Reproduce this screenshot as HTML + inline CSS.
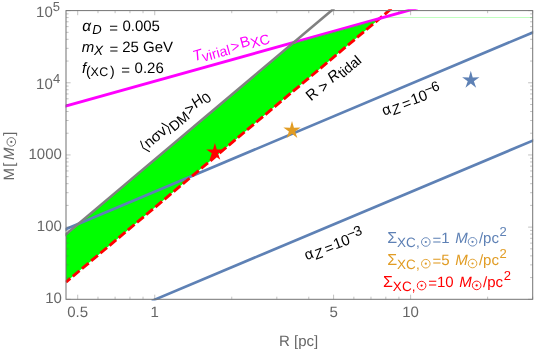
<!DOCTYPE html>
<html><head><meta charset="utf-8"><title>plot</title>
<style>
html,body{margin:0;padding:0;background:#fff;}
body{width:540px;height:353px;overflow:hidden;}
svg{display:block;font-family:"Liberation Sans",sans-serif;text-rendering:geometricPrecision;will-change:transform;}
</style></head><body>
<svg width="540" height="353" viewBox="0 0 540 353">
<rect x="0" y="0" width="540" height="353" fill="#fff"/>
<defs>
<clipPath id="pc"><rect x="65.50" y="9.30" width="467.70" height="291.30"/></clipPath>
</defs>
<g clip-path="url(#pc)">
<polygon points="66.00,234.30 293.66,42.47 379.75,18.45 66.00,282.10" fill="#00ff00"/>
<line x1="383.75" y1="17.5" x2="532.70" y2="17.5" stroke="#00ff00" stroke-width="0.25"/>
<line x1="61.33" y1="231.07" x2="537.37" y2="30.53" stroke="#5e81b5" stroke-width="2.7"/>
<line x1="151.73" y1="300.89" x2="536.47" y2="139.11" stroke="#5e81b5" stroke-width="2.7"/>
<line x1="66.00" y1="282.10" x2="392.43" y2="7.78" stroke="#ff0000" stroke-width="2.9" stroke-dasharray="8.77 3.21" stroke-dashoffset="3.1"/>
<line x1="62.59" y1="106.95" x2="417.75" y2="7.84" stroke="#ff00ff" stroke-width="2.9"/>
<line x1="296.18" y1="43.00" x2="375.57" y2="20.87" stroke="#00ff00" stroke-width="0.6"/>
<line x1="63.34" y1="236.54" x2="334.26" y2="8.26" stroke="#808080" stroke-width="2.6"/>
</g>
<polygon transform="translate(470.8,80.1)" points="0.00,-9.33 1.91,-2.70 8.65,-2.88 3.09,1.03 5.35,7.55 0.00,3.33 -5.35,7.55 -3.09,1.03 -8.65,-2.88 -1.91,-2.70" fill="#5e81b5"/>
<polygon transform="translate(292.0,130.4)" points="0.00,-9.33 1.91,-2.70 8.65,-2.88 3.09,1.03 5.35,7.55 0.00,3.33 -5.35,7.55 -3.09,1.03 -8.65,-2.88 -1.91,-2.70" fill="#e19c24"/>
<polygon transform="translate(214.9,152.3)" points="0.00,-9.33 1.91,-2.70 8.65,-2.88 3.09,1.03 5.35,7.55 0.00,3.33 -5.35,7.55 -3.09,1.03 -8.65,-2.88 -1.91,-2.70" fill="#ff0000"/>
<path d="M66.00 299.30h4.6M532.70 299.30h-4.6M66.00 277.57h2.6M532.70 277.57h-2.6M66.00 264.86h2.6M532.70 264.86h-2.6M66.00 255.85h2.6M532.70 255.85h-2.6M66.00 248.85h2.6M532.70 248.85h-2.6M66.00 243.14h2.6M532.70 243.14h-2.6M66.00 238.31h2.6M532.70 238.31h-2.6M66.00 234.12h2.6M532.70 234.12h-2.6M66.00 230.43h2.6M532.70 230.43h-2.6M66.00 227.12h4.6M532.70 227.12h-4.6M66.00 205.40h2.6M532.70 205.40h-2.6M66.00 192.69h2.6M532.70 192.69h-2.6M66.00 183.67h2.6M532.70 183.67h-2.6M66.00 176.68h2.6M532.70 176.68h-2.6M66.00 170.96h2.6M532.70 170.96h-2.6M66.00 166.13h2.6M532.70 166.13h-2.6M66.00 161.94h2.6M532.70 161.94h-2.6M66.00 158.25h2.6M532.70 158.25h-2.6M66.00 154.95h4.6M532.70 154.95h-4.6M66.00 133.22h2.6M532.70 133.22h-2.6M66.00 120.51h2.6M532.70 120.51h-2.6M66.00 111.50h2.6M532.70 111.50h-2.6M66.00 104.50h2.6M532.70 104.50h-2.6M66.00 98.79h2.6M532.70 98.79h-2.6M66.00 93.96h2.6M532.70 93.96h-2.6M66.00 89.77h2.6M532.70 89.77h-2.6M66.00 86.08h2.6M532.70 86.08h-2.6M66.00 82.77h4.6M532.70 82.77h-4.6M66.00 61.05h2.6M532.70 61.05h-2.6M66.00 48.34h2.6M532.70 48.34h-2.6M66.00 39.32h2.6M532.70 39.32h-2.6M66.00 32.33h2.6M532.70 32.33h-2.6M66.00 26.61h2.6M532.70 26.61h-2.6M66.00 21.78h2.6M532.70 21.78h-2.6M66.00 17.59h2.6M532.70 17.59h-2.6M66.00 13.90h2.6M532.70 13.90h-2.6M66.00 10.60h4.6M532.70 10.60h-4.6M77.71 299.30v-4.6M77.71 10.60v4.6M97.97 299.30v-2.6M97.97 10.60v2.6M115.10 299.30v-2.6M115.10 10.60v2.6M129.94 299.30v-2.6M129.94 10.60v2.6M143.03 299.30v-2.6M143.03 10.60v2.6M154.74 299.30v-4.6M154.74 10.60v4.6M231.76 299.30v-2.6M231.76 10.60v2.6M276.82 299.30v-2.6M276.82 10.60v2.6M308.79 299.30v-2.6M308.79 10.60v2.6M333.59 299.30v-4.6M333.59 10.60v4.6M353.85 299.30v-2.6M353.85 10.60v2.6M370.98 299.30v-2.6M370.98 10.60v2.6M385.82 299.30v-2.6M385.82 10.60v2.6M398.91 299.30v-2.6M398.91 10.60v2.6M410.61 299.30v-4.6M410.61 10.60v4.6M487.64 299.30v-2.6M487.64 10.60v2.6M532.70 299.30v-2.6M532.70 10.60v2.6" stroke="#666" stroke-width="0.4" fill="none"/>
<rect x="66.00" y="10.60" width="466.70" height="288.70" fill="none" stroke="#737373" stroke-width="1"/>
<g fill="#666">
<text x="67.28" y="317.40" font-size="15.00">0.5</text>
<text x="150.56" y="317.40" font-size="15.00">1</text>
<text x="329.42" y="317.40" font-size="15.00">5</text>
<text x="402.27" y="317.40" font-size="15.00">10</text>
<text x="45.20" y="303.10" font-size="15.00">10</text>
<text x="36.86" y="230.92" font-size="15.00">100</text>
<text x="28.52" y="158.75" font-size="15.00">1000</text>
<text x="36.06" y="88.77" font-size="15.00">10</text>
<text x="52.90" y="82.87" font-size="13.00">4</text>
<text x="36.06" y="16.60" font-size="15.00">10</text>
<text x="52.68" y="10.70" font-size="13.00">5</text>
<text x="279.01" y="346.10" font-size="15.00">R [pc]</text>
<g transform="translate(13.9,179.6) rotate(-90)">
<text x="-0.83" y="0.00" font-size="15.00">M</text>
<text x="12.93" y="0.00" font-size="15.00">[</text>
<text x="19.64" y="0.00" font-size="15.00" font-style="italic">M</text>
<circle cx="37.70" cy="-2.60" r="4.30" stroke="#666" stroke-width="0.90" fill="none"/><circle cx="37.70" cy="-2.60" r="1.10" fill="#666"/>
<text x="43.88" y="0.00" font-size="15.00">]</text>
</g>
</g>
<g fill="#000">
<text x="82.37" y="30.50" font-size="15.50" font-style="italic">α</text>
<text x="92.20" y="33.50" font-size="13.00" font-style="italic">D</text>
<text x="109.17" y="32.70" font-size="15.00">=</text>
<text x="122.41" y="30.50" font-size="15.00">0.005</text>
<text x="81.85" y="52.00" font-size="15.00" font-style="italic">m</text>
<text x="94.06" y="55.00" font-size="13.50" font-style="italic">X</text>
<text x="109.47" y="54.20" font-size="15.00">=</text>
<text x="122.25" y="52.00" font-size="15.00">25 GeV</text>
<text x="82.09" y="72.90" font-size="15.00" font-style="italic">f</text>
<text x="86.03" y="75.70" font-size="14.00">(</text>
<text x="90.62" y="75.90" font-size="12.50">X</text>
<text x="99.17" y="75.90" font-size="12.50">C</text>
<text x="110.12" y="75.70" font-size="14.00">)</text>
<text x="121.37" y="75.10" font-size="15.00">=</text>
<text x="134.61" y="72.90" font-size="15.00">0.26</text>
</g>
<g fill="#000">
<g transform="translate(145.1,151.8) rotate(-40.2)">
<path d="M3.6 -11.4L0.9 -4.2L3.6 3" stroke="#000" stroke-width="1" fill="none"/>
<text x="5.00" y="0.00" font-size="15.00">nσv</text>
<path d="M31.10 -11.4L33.80 -4.2L31.10 3" stroke="#000" stroke-width="1" fill="none"/>
<text x="34.90" y="3.60" font-size="14.00">DM</text>
<text x="57.67" y="1.00" font-size="15.00">&gt;</text>
<text x="67.03" y="0.00" font-size="15.00" font-style="italic">H</text>
<text x="77.46" y="3.40" font-size="14.00">0</text>
</g>
<g transform="translate(194.2,61.3) rotate(-15.6)" fill="#ff00ff">
<text x="0.00" y="0.00" font-size="15.00" font-style="italic">T</text>
<text x="8.86" y="3.00" font-size="14.00">virial</text>
<text x="39.14" y="1.50" font-size="15.00">&gt;</text>
<text x="49.10" y="0.00" font-size="15.00">B</text>
<text x="59.11" y="3.00" font-size="14.00">XC</text>
</g>
<g transform="translate(311,101.5) rotate(-40.2)">
<text x="0.00" y="0.00" font-size="15.00">R</text>
<text x="15.03" y="1.50" font-size="15.00">&gt;</text>
<text x="28.19" y="0.00" font-size="15.00" font-style="italic">R</text>
<text x="39.02" y="3.00" font-size="14.00">tidal</text>
</g>
<g transform="translate(383.9,115.8) rotate(-20.5)">
<text x="0.00" y="0.00" font-size="15.00">α</text>
<text x="9.27" y="3.00" font-size="14.00" font-style="italic">Z</text>
<text x="21.12" y="1.50" font-size="15.00">=</text>
<text x="30.98" y="0.00" font-size="15.00">10</text>
<text x="47.07" y="-4.90" font-size="14.00">−</text>
<text x="54.44" y="-4.90" font-size="14.00">6</text>
</g>
<g transform="translate(306.4,260.3) rotate(-20.5)">
<text x="0.00" y="0.00" font-size="15.00">α</text>
<text x="9.27" y="3.00" font-size="14.00" font-style="italic">Z</text>
<text x="21.12" y="1.50" font-size="15.00">=</text>
<text x="30.98" y="0.00" font-size="15.00">10</text>
<text x="47.07" y="-4.90" font-size="14.00">−</text>
<text x="54.44" y="-4.90" font-size="14.00">3</text>
</g>
</g>
<g fill="#5e81b5">
<text x="387.16" y="243.30" font-size="16.00">Σ</text>
<text x="397.00" y="247.00" font-size="13.50">X</text>
<text x="406.11" y="247.00" font-size="13.50">C</text>
<text x="415.89" y="247.00" font-size="13.50">,</text>
<circle cx="425.80" cy="242.00" r="4.30" stroke="#5e81b5" stroke-width="0.90" fill="none"/><circle cx="425.80" cy="242.00" r="1.10" fill="#5e81b5"/>
<text x="432.47" y="244.60" font-size="15.00">=</text>
<text x="432.47" y="243.10" font-size="15.00" visibility="hidden">=1 </text>
<text x="441.23" y="243.10" font-size="15.00">1</text>
<text x="455.18" y="243.10" font-size="15.00" font-style="italic">M</text>
<circle cx="472.54" cy="241.80" r="4.30" stroke="#5e81b5" stroke-width="0.90" fill="none"/><circle cx="472.54" cy="241.80" r="1.10" fill="#5e81b5"/>
<text x="478.94" y="243.10" font-size="15.00">/pc</text>
<text x="499.59" y="236.10" font-size="13.00">2</text>
</g>
<g fill="#e19c24">
<text x="387.16" y="265.00" font-size="16.00">Σ</text>
<text x="397.00" y="268.70" font-size="13.50">X</text>
<text x="406.11" y="268.70" font-size="13.50">C</text>
<text x="415.89" y="268.70" font-size="13.50">,</text>
<circle cx="425.80" cy="263.70" r="4.30" stroke="#e19c24" stroke-width="0.90" fill="none"/><circle cx="425.80" cy="263.70" r="1.10" fill="#e19c24"/>
<text x="432.47" y="266.30" font-size="15.00">=</text>
<text x="432.47" y="264.80" font-size="15.00" visibility="hidden">=5 </text>
<text x="441.23" y="264.80" font-size="15.00">5</text>
<text x="455.18" y="264.80" font-size="15.00" font-style="italic">M</text>
<circle cx="472.54" cy="263.50" r="4.30" stroke="#e19c24" stroke-width="0.90" fill="none"/><circle cx="472.54" cy="263.50" r="1.10" fill="#e19c24"/>
<text x="478.94" y="264.80" font-size="15.00">/pc</text>
<text x="499.59" y="257.80" font-size="13.00">2</text>
</g>
<g fill="#ff0000">
<text x="382.96" y="286.90" font-size="16.00">Σ</text>
<text x="392.80" y="290.60" font-size="13.50">X</text>
<text x="401.91" y="290.60" font-size="13.50">C</text>
<text x="411.69" y="290.60" font-size="13.50">,</text>
<circle cx="421.60" cy="285.60" r="4.30" stroke="#ff0000" stroke-width="0.90" fill="none"/><circle cx="421.60" cy="285.60" r="1.10" fill="#ff0000"/>
<text x="428.27" y="288.20" font-size="15.00">=</text>
<text x="428.27" y="286.70" font-size="15.00" visibility="hidden">=10 </text>
<text x="437.03" y="286.70" font-size="15.00">10</text>
<text x="459.32" y="286.70" font-size="15.00" font-style="italic">M</text>
<circle cx="476.68" cy="285.40" r="4.30" stroke="#ff0000" stroke-width="0.90" fill="none"/><circle cx="476.68" cy="285.40" r="1.10" fill="#ff0000"/>
<text x="483.08" y="286.70" font-size="15.00">/pc</text>
<text x="503.74" y="279.70" font-size="13.00">2</text>
</g>
</svg></body></html>
